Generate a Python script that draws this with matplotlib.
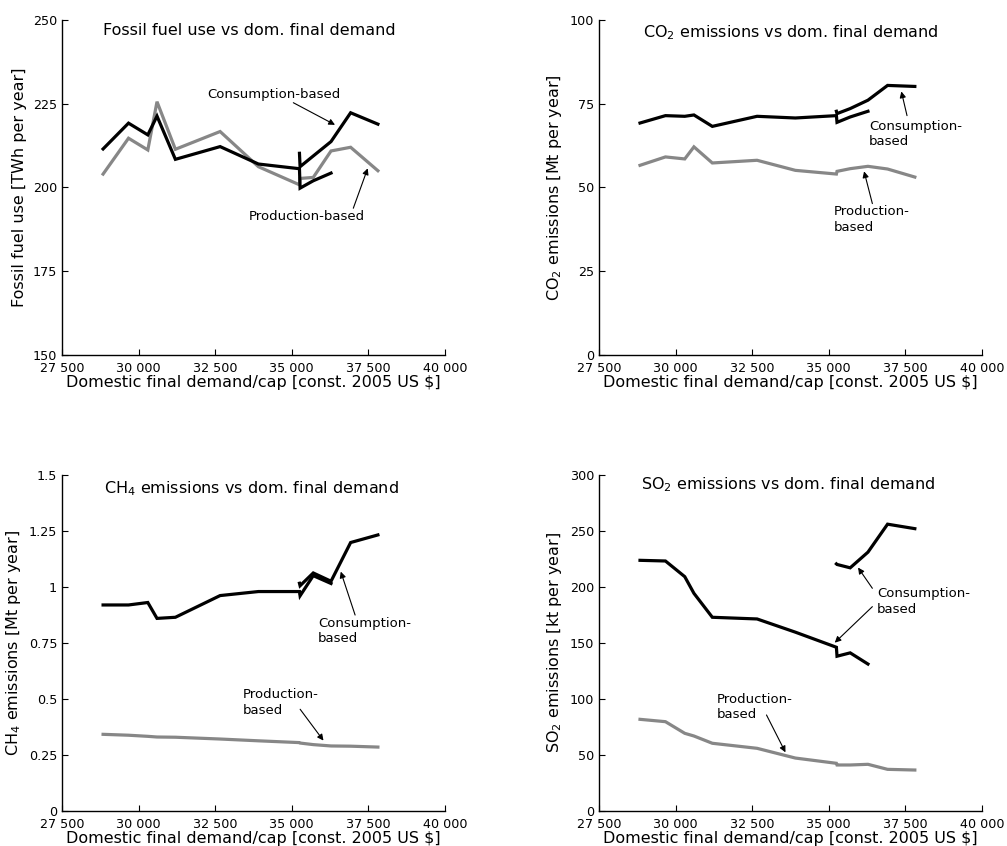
import matplotlib
matplotlib.use("Agg")
import matplotlib.pyplot as plt
from matplotlib.ticker import FuncFormatter

# domestic final demand per capita, const. 2005 US $ (one point per year)
demand_all = [28840, 29670, 30300, 30600, 31200, 32660, 33910,
              35250, 35270, 35700, 36280, 36920, 37810]
demand_old = demand_all[:11]   # consumption-based, first data set
demand_new = demand_all[7:]    # consumption-based, second data set

# fossil fuel use [TWh per year]
fossil_cons_old = [211.5, 219.2, 215.7, 221.3, 208.4, 212.2, 207.0, 205.6, 199.8, 202.0, 204.3]
fossil_cons_new = [210.2, 206.2, 209.4, 213.7, 222.3, 218.9]
fossil_prod = [204.0, 214.7, 211.2, 225.6, 211.4, 216.7, 206.2, 200.8, 202.7, 203.0, 210.9, 212.0, 205.0]

# CO2 emissions [Mt per year]
co2_cons_old = [69.2, 71.4, 71.2, 71.6, 68.2, 71.2, 70.7, 71.4, 69.4, 71.0, 72.7]
co2_cons_new = [72.7, 72.0, 73.5, 76.0, 80.4, 80.1]
co2_prod = [56.6, 59.1, 58.5, 62.1, 57.3, 58.1, 55.1, 54.0, 54.8, 55.6, 56.3, 55.5, 53.1]

# CH4 emissions [Mt per year]
ch4_cons_old = [0.919, 0.919, 0.930, 0.859, 0.864, 0.961, 0.979, 0.979, 0.960, 1.050, 1.015]
ch4_cons_new = [1.016, 1.005, 1.062, 1.025, 1.198, 1.232]
ch4_prod = [0.341, 0.337, 0.332, 0.329, 0.328, 0.320, 0.312, 0.304, 0.302, 0.295, 0.289, 0.288, 0.284]

# SO2 emissions [kt per year]
so2_cons_old = [223.7, 223.1, 209.1, 194.2, 172.8, 171.3, 159.5, 146.0, 138.0, 141.0, 131.0]
so2_cons_new = [220.5, 220.0, 217.0, 231.0, 256.0, 252.0]
so2_prod = [81.6, 79.5, 69.1, 66.7, 60.2, 55.7, 47.0, 42.3, 40.8, 40.8, 41.4, 36.9, 36.3]

x_ticks = [27500, 30000, 32500, 35000, 37500, 40000]
x_label = 'Domestic final demand/cap [const. 2005 US $]'

BLACK = '#000000'
GREY = '#878787'
LW = 2.3


def thousands(v, pos):
    return f'{int(v):,}'.replace(',', ' ')


def style_axes(ax, ymax, yticks, ylabel, title, title_x, title_y):
    ax.set_xlim(27500, 40000)
    ax.set_ylim(yticks[0], ymax)
    ax.set_xticks(x_ticks)
    ax.set_yticks(yticks)
    ax.xaxis.set_major_formatter(FuncFormatter(thousands))
    ax.yaxis.set_major_formatter(FuncFormatter(lambda v, p: f'{v:g}'))
    ax.spines['top'].set_visible(False)
    ax.spines['right'].set_visible(False)
    for s in ('left', 'bottom'):
        ax.spines[s].set_linewidth(1.0)
    ax.tick_params(direction='in', length=4, width=0.8, labelsize=9.2)
    ax.tick_params(axis='x', pad=5)
    ax.tick_params(axis='y', pad=3.5)
    ax.set_xlabel(x_label, fontsize=11.5, labelpad=0)
    ax.set_ylabel(ylabel, fontsize=11.5, labelpad=4)
    ax.text(title_x, title_y, title, transform=ax.transAxes, ha='center',
            va='center', fontsize=11.5)


def arrow(ax, text_xy, head_xy):
    ax.annotate('', xy=head_xy, xytext=text_xy,
                arrowprops=dict(arrowstyle='-|>', color='black', lw=0.8,
                                mutation_scale=9, shrinkA=0, shrinkB=0))


fig = plt.figure(figsize=(10.07, 8.46), dpi=100)
ax1 = fig.add_axes([0.0616, 0.5804, 0.3803, 0.396])
ax2 = fig.add_axes([0.5948, 0.5800, 0.3803, 0.3968])
ax3 = fig.add_axes([0.0616, 0.0418, 0.3803, 0.3968])
ax4 = fig.add_axes([0.5948, 0.0418, 0.3803, 0.3968])

panels = [
    (ax1, fossil_cons_old, fossil_cons_new, fossil_prod),
    (ax2, co2_cons_old, co2_cons_new, co2_prod),
    (ax3, ch4_cons_old, ch4_cons_new, ch4_prod),
    (ax4, so2_cons_old, so2_cons_new, so2_prod),
]
for ax, c_old, c_new, prod in panels:
    ax.plot(demand_all, prod, color=GREY, lw=LW, solid_joinstyle='miter')
    ax.plot(demand_old, c_old, color=BLACK, lw=LW, solid_joinstyle='miter')
    ax.plot(demand_new, c_new, color=BLACK, lw=LW, solid_joinstyle='miter')

style_axes(ax1, 250, [150, 175, 200, 225, 250], 'Fossil fuel use [TWh per year]',
           'Fossil fuel use vs dom. final demand', 0.488, 0.97)
style_axes(ax2, 100, [0, 25, 50, 75, 100], 'CO$_2$ emissions [Mt per year]',
           'CO$_2$ emissions vs dom. final demand', 0.501, 0.96)
style_axes(ax3, 1.5, [0, 0.25, 0.5, 0.75, 1, 1.25, 1.5], 'CH$_4$ emissions [Mt per year]',
           'CH$_4$ emissions vs dom. final demand', 0.495, 0.96)
style_axes(ax4, 300, [0, 50, 100, 150, 200, 250, 300], 'SO$_2$ emissions [kt per year]',
           'SO$_2$ emissions vs dom. final demand', 0.494, 0.97)

ann = dict(fontsize=9.5, linespacing=1.25)

# fossil fuel
ax1.text(34400, 227.9, 'Consumption-based', ha='center', va='center', **ann)
arrow(ax1, (35050, 225.3), (36410, 218.7))
ax1.text(35490, 191.3, 'Production-based', ha='center', va='center', **ann)
arrow(ax1, (37007, 193.8), (37477, 205.7))

# CO2
ax2.text(36316, 65.9, 'Consumption-\nbased', ha='left', va='center', **ann)
arrow(ax2, (37555, 71.4), (37370, 78.6))
ax2.text(35174, 40.4, 'Production-\nbased', ha='left', va='center', **ann)
arrow(ax2, (36424, 45.2), (36153, 54.8))

# CH4
ax3.text(35848, 0.803, 'Consumption-\nbased', ha='left', va='center', **ann)
arrow(ax3, (37066, 0.874), (36598, 1.068))
ax3.text(33402, 0.484, 'Production-\nbased', ha='left', va='center', **ann)
arrow(ax3, (35272, 0.453), (36033, 0.313))

# SO2
ax4.text(36577, 186.8, 'Consumption-\nbased', ha='left', va='center', **ann)
arrow(ax4, (36424, 198.7), (35957, 217.2))
arrow(ax4, (36424, 182.3), (35196, 150.1))
ax4.text(31359, 92.4, 'Production-\nbased', ha='left', va='center', **ann)
arrow(ax4, (32968, 85.5), (33587, 52.1))

fig.savefig('out.png', dpi=100)
